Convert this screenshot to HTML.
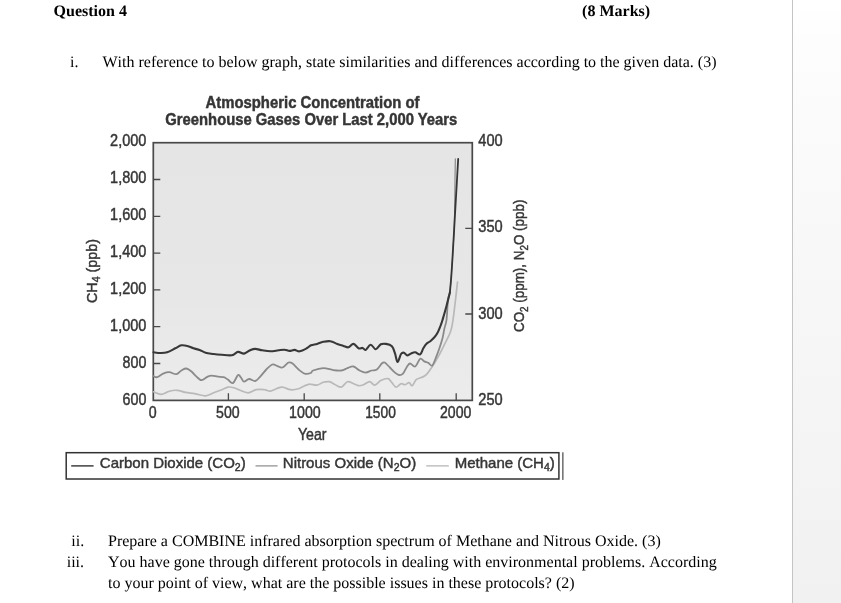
<!DOCTYPE html>
<html lang="en">
<head>
<meta charset="utf-8">
<title>Question 4</title>
<style>
html,body{margin:0;padding:0;}
body{width:841px;height:603px;overflow:hidden;background:#fff;position:relative;font-family:"Liberation Serif","Times New Roman",serif;color:#000;}
.t{position:absolute;white-space:nowrap;font-size:16px;line-height:18px;font-kerning:none;font-variant-ligatures:none;text-rendering:geometricPrecision;}
.b{font-weight:bold;}
#side{position:absolute;left:793px;top:0;width:48px;height:603px;background:linear-gradient(to bottom,#ffffff 0px,#fdfdfd 40px,#f8f8f8 250px,#f1f1f1 603px);}
#vline{position:absolute;left:792px;top:0;width:1px;height:603px;background:#c4c4c4;}
svg{position:absolute;left:0;top:0;}
svg text{font-family:"Liberation Sans",Arial,sans-serif;fill:#363636;stroke:#363636;stroke-width:0.45px;}
</style>
</head>
<body>
<div id="side"></div>
<div id="vline"></div>

<div class="t b" style="left:53.6px;top:3px;">Question 4</div>
<div class="t b" style="left:582.1px;top:3px;">(8 Marks)</div>

<div class="t" style="left:70px;top:54px;">i.</div>
<div class="t" style="left:102.5px;top:54px;">With reference to below graph, state similarities and differences according to the given data. (3)</div>

<div class="t" style="left:71.3px;top:532.6px;">ii.</div>
<div class="t" style="left:108px;top:532.6px;">Prepare a COMBINE infrared absorption spectrum of Methane and Nitrous Oxide. (3)</div>
<div class="t" style="left:66.7px;top:553.6px;">iii.</div>
<div class="t" style="left:108px;top:553.6px;">You have gone through different protocols in dealing with environmental problems. According</div>
<div class="t" style="left:108px;top:574.6px;">to your point of view, what are the possible issues in these protocols? (2)</div>

<svg width="841" height="603" viewBox="0 0 841 603">
<defs>
<linearGradient id="pg" x1="0" y1="0" x2="0" y2="1">
<stop offset="0" stop-color="#e5e5e5"/>
<stop offset="0.6" stop-color="#e7e7e7"/>
<stop offset="1" stop-color="#ececec"/>
</linearGradient>
<filter id="bl" x="-5%" y="-5%" width="110%" height="110%"><feGaussianBlur stdDeviation="0.5"/></filter>
</defs>
<g filter="url(#bl)">
<!-- plot area -->
<rect x="153.3" y="142.7" width="319" height="257.7" fill="url(#pg)" stroke="#484848" stroke-width="1.7"/>
<!-- left ticks -->
<g stroke="#484848" stroke-width="1.3">
<path d="M153.3 179.5h7M153.3 216.3h7M153.3 253.1h7M153.3 289.9h7M153.3 326.7h7M153.3 363.5h7"/>
<path d="M472.3 228.4h-7M472.3 314h-7"/>
<path d="M228.4 400.3v-7M304.2 400.3v-7M379.8 400.3v-7M456.2 400.3v-7"/>
</g>
<!-- curves -->
<g fill="none" stroke-linejoin="round" stroke-linecap="round">
<path id="ch4" stroke="#b9b9b9" stroke-width="1.7" d="M153.5 391.8C154.8 392.2 158.6 394.5 161.2 394.4C163.8 394.3 166.6 391.9 169.3 391.2C172.0 390.5 174.6 390.1 177.3 390.3C180.0 390.5 182.4 391.8 185.4 392.4C188.4 393.0 192.1 393.2 195.5 393.8C198.9 394.4 202.6 396.0 205.6 395.8C208.6 395.6 211.0 393.8 213.7 392.8C216.4 391.8 219.4 390.6 221.8 389.7C224.2 388.8 225.9 387.4 227.9 387.1C229.9 386.8 231.9 387.2 233.9 387.7C235.9 388.2 237.6 389.4 240.0 390.3C242.4 391.2 245.4 392.9 248.1 392.8C250.8 392.7 253.5 390.2 256.2 389.7C258.9 389.2 261.9 389.4 264.3 389.7C266.7 389.9 268.3 391.4 270.3 391.2C272.3 391.0 274.4 389.4 276.4 388.7C278.4 388.0 280.1 386.9 282.5 387.1C284.9 387.3 287.8 389.4 290.5 389.7C293.2 390.0 296.2 389.4 298.6 388.7C301.0 388.0 303.0 386.4 304.7 385.7C306.4 385.0 307.6 384.5 308.7 384.3C309.8 384.1 309.7 384.2 311.1 384.3C312.5 384.4 315.1 385.4 317.1 385.1C319.1 384.8 321.2 382.9 323.2 382.3C325.2 381.7 327.3 381.3 329.3 381.7C331.3 382.1 333.3 383.8 335.3 384.7C337.3 385.6 339.4 387.6 341.4 387.1C343.4 386.6 345.4 382.3 347.4 381.7C349.4 381.1 351.6 383.0 353.5 383.7C355.4 384.4 356.9 385.5 358.6 385.7C360.3 385.9 361.8 385.4 363.6 384.7C365.5 384.0 367.9 381.6 369.7 381.7C371.5 381.8 372.8 385.3 374.7 385.1C376.6 384.9 378.6 381.7 380.8 380.6C383.0 379.5 386.0 378.2 387.9 378.6C389.8 379.0 390.5 381.3 391.9 382.7C393.2 384.1 394.5 386.9 396.0 387.1C397.5 387.3 399.5 384.1 401.0 383.7C402.5 383.3 403.8 384.9 405.1 384.7C406.5 384.5 407.9 382.5 409.1 382.7C410.3 382.9 410.9 386.2 412.1 385.7C413.3 385.2 414.7 381.0 416.2 379.6C417.7 378.2 419.5 378.4 421.2 377.6C422.9 376.8 424.4 376.5 426.3 374.6C428.2 372.8 430.3 369.5 432.3 366.5C434.3 363.5 436.4 360.1 438.4 356.4C440.4 352.7 442.5 348.4 444.5 344.3C446.5 340.2 449.0 336.2 450.4 332.1C451.8 328.1 452.2 325.2 453.0 320.0C453.8 314.8 454.6 307.1 455.4 300.8C456.1 294.5 457.1 285.3 457.5 282.2"/>
<path id="n2o" stroke="#8a8a8a" stroke-width="1.8" d="M153.5 376.2C154.1 376.4 155.5 377.6 157.1 377.2C158.7 376.8 161.2 374.4 163.2 373.6C165.2 372.8 167.1 372.1 169.3 372.2C171.5 372.3 174.3 374.5 176.3 374.2C178.3 373.9 179.7 371.4 181.4 370.5C183.1 369.6 184.7 368.3 186.4 368.5C188.1 368.7 189.8 370.1 191.5 371.5C193.2 372.9 194.8 375.2 196.5 376.6C198.2 378.1 199.7 380.2 201.6 380.2C203.5 380.2 206.0 377.4 207.7 376.6C209.4 375.8 210.0 375.6 211.7 375.6C213.4 375.6 215.8 376.3 217.8 376.6C219.8 376.9 222.1 376.7 223.8 377.2C225.5 377.7 226.4 378.6 227.9 379.6C229.4 380.6 231.2 383.9 232.9 383.1C234.6 382.3 236.7 375.9 238.0 375.0C239.3 374.1 240.0 376.5 241.0 377.6C242.0 378.7 242.7 381.5 244.0 381.7C245.3 381.9 247.2 379.1 249.1 379.0C251.0 378.9 253.3 381.4 255.2 381.0C257.1 380.6 258.3 378.5 260.2 376.6C262.1 374.7 264.3 371.5 266.3 369.5C268.3 367.5 270.5 365.1 272.3 364.5C274.1 363.9 275.7 365.6 277.4 366.1C279.1 366.6 280.6 368.1 282.5 367.5C284.4 366.9 286.8 363.2 288.5 362.5C290.2 361.8 290.9 362.3 292.6 363.5C294.3 364.7 296.6 367.8 298.6 369.5C300.6 371.2 302.7 373.0 304.7 373.6C306.7 374.2 309.4 373.5 310.8 373.0C312.2 372.5 311.0 371.3 313.1 370.5C315.2 369.7 319.8 368.2 323.2 368.1C326.6 368.0 330.3 369.7 333.3 370.1C336.3 370.5 339.0 370.8 341.4 370.5C343.8 370.2 345.4 368.8 347.4 368.1C349.4 367.4 351.5 366.1 353.5 366.5C355.5 366.9 357.6 369.5 359.6 370.5C361.6 371.5 363.6 372.6 365.6 372.6C367.6 372.6 369.8 371.0 371.7 370.5C373.6 370.0 375.1 370.7 376.8 369.5C378.5 368.3 380.5 364.7 381.8 363.5C383.1 362.3 383.5 361.8 384.8 362.5C386.1 363.2 388.2 365.8 389.9 367.5C391.6 369.2 393.5 371.4 395.0 372.6C396.5 373.9 397.7 374.8 399.0 375.0C400.3 375.2 401.6 375.0 403.0 373.6C404.4 372.2 405.9 368.2 407.1 366.5C408.3 364.8 408.8 363.5 410.1 363.5C411.5 363.5 413.5 367.3 415.2 366.5C416.9 365.7 418.7 359.7 420.2 358.8C421.7 357.9 422.9 360.7 424.3 361.4C425.7 362.1 427.0 362.2 428.3 362.9C429.6 363.6 431.0 366.6 432.3 365.5C433.6 364.4 435.2 359.3 436.4 356.4C437.6 353.5 438.4 351.3 439.4 348.3C440.4 345.3 441.6 341.6 442.5 338.2C443.4 334.8 443.8 331.1 444.5 328.1C445.2 325.1 445.9 324.6 446.5 320.0C447.1 315.4 447.4 305.0 448.0 300.4C448.6 295.8 449.6 293.7 449.9 292.4"/>
<path id="n2o2" stroke="#808080" stroke-width="1.1" d="M449.9 292.4C450.1 289.9 450.8 283.1 451.2 277.6C451.6 272.1 452.0 266.1 452.4 259.5C452.8 252.9 453.4 244.2 453.7 238.0C454.0 231.8 454.2 230.0 454.4 222.0C454.6 214.0 454.8 200.5 454.9 190.0C455.0 179.5 455.2 164.0 455.3 158.8"/>
<path id="co2" stroke="#383838" stroke-width="2.1" d="M153.5 352.3C154.6 352.4 157.9 353.0 160.2 353.0C162.5 353.0 164.7 353.1 167.2 352.3C169.7 351.5 172.9 349.5 175.3 348.3C177.7 347.1 179.4 345.7 181.4 345.3C183.4 344.9 185.4 345.4 187.4 345.9C189.4 346.4 191.5 347.6 193.5 348.3C195.5 349.0 197.6 349.2 199.6 349.9C201.6 350.6 203.2 352.0 205.6 352.7C207.9 353.4 211.0 353.6 213.7 354.0C216.4 354.4 218.8 354.6 221.8 354.8C224.8 355.0 229.2 355.7 231.9 355.2C234.6 354.7 236.0 352.2 238.0 351.9C240.0 351.6 242.0 353.9 244.0 353.6C246.0 353.3 248.2 351.1 250.1 350.3C252.0 349.5 253.2 348.9 255.2 348.9C257.2 348.9 259.7 349.9 262.2 350.3C264.7 350.7 267.6 351.3 270.3 351.3C273.0 351.3 276.0 350.6 278.4 350.3C280.8 350.0 282.6 349.6 284.5 349.7C286.4 349.8 287.8 350.9 289.5 350.9C291.2 350.9 292.9 349.8 294.6 349.9C296.3 350.0 297.6 351.6 299.6 351.3C301.6 351.0 304.8 349.3 306.7 348.3C308.6 347.3 309.4 346.0 311.1 345.3C312.8 344.6 315.1 344.5 317.1 343.9C319.1 343.3 321.0 342.2 323.2 341.8C325.4 341.4 327.9 340.9 330.3 341.2C332.7 341.5 335.1 343.1 337.3 343.9C339.5 344.7 341.5 345.3 343.4 345.9C345.3 346.5 346.8 347.6 348.5 347.3C350.2 347.0 351.8 343.7 353.5 343.9C355.2 344.1 357.1 347.6 358.6 348.3C360.1 349.0 361.4 347.6 362.6 347.9C363.8 348.2 364.2 350.4 365.6 349.9C367.0 349.4 369.0 344.8 370.7 344.7C372.4 344.6 374.1 349.4 375.8 349.3C377.5 349.2 379.1 345.2 380.8 344.3C382.5 343.4 384.0 343.6 385.9 343.9C387.8 344.2 390.4 344.7 391.9 346.3C393.4 347.9 394.1 350.8 395.0 353.4C395.9 356.0 396.6 361.9 397.6 362.0C398.6 362.1 399.9 355.6 401.0 354.0C402.1 352.4 403.0 352.5 404.0 352.7C405.0 352.9 405.9 355.3 407.1 355.4C408.3 355.5 409.8 353.9 411.1 353.4C412.5 352.9 413.7 352.1 415.2 352.3C416.7 352.5 418.8 355.1 420.2 354.4C421.6 353.7 422.3 350.1 423.3 348.3C424.3 346.6 425.1 345.1 426.3 343.9C427.5 342.7 429.0 342.3 430.3 341.2C431.6 340.1 433.2 338.5 434.4 337.2C435.6 335.9 436.4 335.0 437.4 333.1C438.4 331.2 439.5 328.3 440.4 326.1C441.2 323.9 441.5 323.4 442.5 320.0C443.5 316.6 445.3 310.6 446.5 306.0C447.7 301.4 449.3 294.7 449.9 292.4"/>
<path id="co22" stroke="#363636" stroke-width="1.8" d="M449.9 292.4C450.1 289.9 450.8 283.1 451.2 277.6C451.6 272.1 451.9 267.7 452.4 259.5C452.9 251.3 453.5 240.9 454.2 228.5C454.9 216.1 456.0 196.4 456.7 184.8C457.4 173.2 457.9 163.1 458.2 158.8"/>
</g>
<!-- title -->
<g font-weight="bold" font-size="15.9" text-anchor="middle">
<text x="312.5" y="107.8" textLength="214" lengthAdjust="spacingAndGlyphs">Atmospheric Concentration of</text>
<text x="311.3" y="125.1" textLength="292" lengthAdjust="spacingAndGlyphs">Greenhouse Gases Over Last 2,000 Years</text>
</g>
<!-- left labels -->
<g font-size="15.8" text-anchor="end">
<text x="146.4" y="145.7" textLength="36.3" lengthAdjust="spacingAndGlyphs">2,000</text>
<text x="146.4" y="182.8" textLength="36.3" lengthAdjust="spacingAndGlyphs">1,800</text>
<text x="146.4" y="219.9" textLength="36.3" lengthAdjust="spacingAndGlyphs">1,600</text>
<text x="146.4" y="257.0" textLength="36.3" lengthAdjust="spacingAndGlyphs">1,400</text>
<text x="146.4" y="294.1" textLength="36.3" lengthAdjust="spacingAndGlyphs">1,200</text>
<text x="146.4" y="331.1" textLength="36.3" lengthAdjust="spacingAndGlyphs">1,000</text>
<text x="146.4" y="368.2" textLength="23.8" lengthAdjust="spacingAndGlyphs">800</text>
<text x="146.4" y="405.3" textLength="23.8" lengthAdjust="spacingAndGlyphs">600</text>
</g>
<g font-size="15.8">
<text x="478.3" y="145.7" textLength="24.4" lengthAdjust="spacingAndGlyphs">400</text>
<text x="478.3" y="232.2" textLength="24.4" lengthAdjust="spacingAndGlyphs">350</text>
<text x="478.3" y="318.6" textLength="24.4" lengthAdjust="spacingAndGlyphs">300</text>
<text x="478.3" y="405.1" textLength="24.4" lengthAdjust="spacingAndGlyphs">250</text>
</g>
<g font-size="15.8" text-anchor="middle">
<text x="152.7" y="417.8" textLength="7.9" lengthAdjust="spacingAndGlyphs">0</text>
<text x="227.9" y="417.8" textLength="23.6" lengthAdjust="spacingAndGlyphs">500</text>
<text x="304.9" y="417.8" textLength="31.6" lengthAdjust="spacingAndGlyphs">1000</text>
<text x="380.5" y="417.8" textLength="30.6" lengthAdjust="spacingAndGlyphs">1500</text>
<text x="455.7" y="417.8" textLength="31.3" lengthAdjust="spacingAndGlyphs">2000</text>
<text x="312.2" y="440.4" textLength="28.6" lengthAdjust="spacingAndGlyphs">Year</text>
</g>
<text font-size="15" text-anchor="middle" transform="translate(96.6 271) rotate(-90)" textLength="64" lengthAdjust="spacingAndGlyphs">CH<tspan font-size="11" dy="3.6">4</tspan><tspan dy="-3.6"> (ppb)</tspan></text>
<text font-size="15" text-anchor="middle" transform="translate(524.4 265.8) rotate(-90)" textLength="132.5" lengthAdjust="spacingAndGlyphs">CO<tspan font-size="11" dy="3.6">2</tspan><tspan dy="-3.6"> (ppm), N</tspan><tspan font-size="11" dy="3.6">2</tspan><tspan dy="-3.6">O (ppb)</tspan></text>
<!-- legend -->
<rect x="66.2" y="452.7" width="492.7" height="26.3" fill="#fff" stroke="#333" stroke-width="1.5"/>
<path d="M71.2 465.9H93.6" stroke="#333" stroke-width="1.4"/>
<path d="M255.5 465.9H277.6" stroke="#8a8a8a" stroke-width="1.2"/>
<path d="M426.2 465.9H448.8" stroke="#b0b0b0" stroke-width="1.2"/>
<g font-size="15">
<text x="99.8" y="467.9">Carbon Dioxide (CO<tspan font-size="10.5" dy="3.5">2</tspan><tspan dy="-3.5">)</tspan></text>
<text x="282.8" y="467.9">Nitrous Oxide (N<tspan font-size="10.5" dy="3.5">2</tspan><tspan dy="-3.5">O)</tspan></text>
<text x="454.7" y="467.9">Methane (CH<tspan font-size="10.5" dy="3.5">4</tspan><tspan dy="-3.5">)</tspan></text>
</g>
</g>
<path d="M562.9 452.3V479.9" stroke="#222" stroke-width="1"/>
</svg>
</body>
</html>
